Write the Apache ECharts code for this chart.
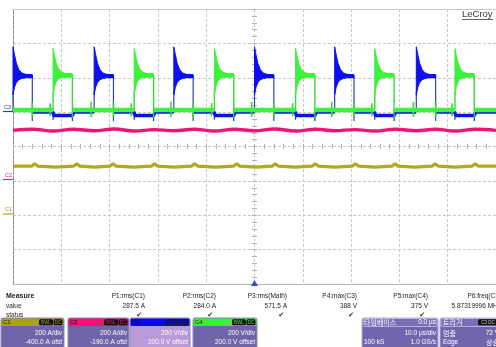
<!DOCTYPE html>
<html><head><meta charset="utf-8">
<script src="https://cdn.jsdelivr.net/npm/echarts@6/dist/echarts.min.js"></script>
<style>html,body{margin:0;padding:0;background:#fff}#c{width:496px;height:347px}</style>
</head><body><div id="c"></div><script>
// ---- data (time in µs, 10 µs/div, trigger at centre; amplitude in screen divisions) ----
const c3PulseStarts = [-50, -33.2, -16.7, 0, 16.6, 33.5];
const c4PulseStarts = [-41.7, -24.9, -8.3, 8.5, 24.9, 41.5];
const pulseWidth = 4.0;
const c3Levels = { base: 1.0, lowWhileC4: 0.9, plateau: 2.05, undershoot: 0.74 };
const c4Levels = { base: 1.06, plateau: 2.07, undershoot: 0.84 };
// ringing envelopes after switch-on: [dt µs, div]
const c3RingTop    = [[0,2.9],[0.3,2.68],[0.7,2.42],[1.2,2.24],[1.8,2.14],[2.6,2.1],[4.0,2.09]];
const c3RingBottom = [[0,1.5],[0.3,1.72],[0.7,1.86],[1.2,1.94],[1.8,1.98],[2.6,2.0],[4.0,2.0]];
const c4RingTop    = [[0,2.85],[0.3,2.64],[0.7,2.4],[1.2,2.24],[1.8,2.16],[2.6,2.12],[4.0,2.11]];
const c4RingBottom = [[0,1.5],[0.3,1.74],[0.7,1.9],[1.2,1.97],[1.8,2.01],[2.6,2.03],[4.0,2.03]];
// switching spikes: [time µs, low div, high div]
const c3Spikes = [[-41.7,0.78,1.0],[-24.9,0.78,1.0],[-8.3,0.78,1.0],[8.5,0.78,1.0],[24.9,0.78,1.0],[41.5,0.78,1.0],
  [-37.7,0.74,0.95],[-20.9,0.74,0.95],[-4.3,0.74,0.95],[12.5,0.74,0.95],[28.9,0.74,0.95],[45.5,0.74,0.95]];
const c4Spikes = [[-46,0.84,1.28],[-42.3,0.88,1.26],[-33.8,0.86,1.3],[-29.2,0.84,1.28],[-25.5,0.88,1.26],
  [-17.3,0.86,1.3],[-12.7,0.84,1.28],[-8.9,0.88,1.26],[-0.6,0.86,1.3],
  [4.0,0.84,1.28],[7.9,0.88,1.26],[16.0,0.86,1.3],[20.6,0.84,1.28],[24.3,0.88,1.26],
  [32.9,0.86,1.3],[37.5,0.84,1.28],[40.9,0.88,1.26]];
// C2 (magenta) current trace
const c2Times  = [-50,-45.8,-41.7,-37.5,-33.2,-29,-24.9,-20.8,-16.7,-12.5,-8.3,-4.2,0,4.2,8.5,12.7,16.6,20.8,24.9,29.2,33.5,37.5,41.5,45.8,50];
const c2Values = [0.47,0.50,0.45,0.50,0.46,0.51,0.45,0.49,0.46,0.50,0.45,0.50,0.46,0.51,0.45,0.50,0.46,0.49,0.45,0.50,0.46,0.50,0.45,0.50,0.47];
// C1 (olive) current trace: small bumps at each switch-off
const c1BumpTimes = [-45.5,-36.8,-29.3,-20.7,-12.4,-3.7,4.3,12.6,20.9,29.1,37.4,45.7];
const c1Levels = { base: -0.57, bump: -0.5, trough: -0.6 };
// measurement panel
const measHeaders = ['P1:rms(C1)','P2:rms(C2)','P3:rms(Math)','P4:max(C3)','P5:max(C4)','P6:freq(C3)'];
const measValues  = ['287.5 A','284.0 A','571.5 A','388 V','375 V','5.87319996 MHz'];
const measStatus  = ['✔','✔','✔','✔','✔',''];
const chNames   = ['C1','C2','C3','C4'];
const chScales  = ['200 A/div','200 A/div','200 V/div','200 V/div'];
const chOffsets = ['-400.0 A ofst','-190.0 A ofst','200.0 V offset','200.0 V offset'];

// ---- build traces (gaps at the fast edges, which are drawn thin) ----
function sortPts(p){ return p.sort((a,b)=>a[0]-b[0]); }
function c3Trace(){
  const L=c3Levels, p=[[-50,L.base]];
  c3PulseStarts.forEach(t=>{ p.push([t-0.001,L.base],[t,'-'],[t+0.02,L.plateau],[t+pulseWidth,L.plateau],[t+pulseWidth+0.001,'-'],[t+pulseWidth+0.02,L.base]); });
  c4PulseStarts.forEach(t=>{ p.push([t-0.05,L.base],[t+0.2,L.lowWhileC4],[t+pulseWidth,L.lowWhileC4],[t+pulseWidth+0.3,L.base]); });
  p.push([50,L.base]);
  return sortPts(p).filter(q=>q[0]>=-50);
}
function c3Edges(){ const L=c3Levels, e=[];
  c3PulseStarts.forEach(t=>{ e.push([t,L.base,1.6],[t+pulseWidth,L.undershoot,L.plateau]); }); return e; }
function c4Trace(){
  const L=c4Levels, p=[[-50,L.base]];
  c4PulseStarts.forEach(t=>{ p.push([t-0.001,L.base],[t,'-'],[t+0.02,L.plateau],[t+pulseWidth,L.plateau],[t+pulseWidth+0.001,'-'],[t+pulseWidth+0.02,L.base]); });
  p.push([50,L.base]);
  return sortPts(p);
}
function c4Edges(){ const L=c4Levels, e=[];
  c4PulseStarts.forEach(t=>{ e.push([t,L.base,1.6],[t+pulseWidth,L.undershoot,L.plateau]); }); return e; }
function c1Trace(){
  const L=c1Levels, p=[[-50,L.base]];
  c1BumpTimes.forEach((b,i)=>{ p.push([b-0.6,L.base],[b,L.bump],[b+0.6,L.base]);
    const nb=c1BumpTimes[i+1]; if(nb!==undefined) p.push([(b+nb)/2,L.trough]); });
  p.push([50,L.base]);
  return sortPts(p);
}
function ringSeries(starts, top, bottom, color, z){
  return { type:'custom', z, silent:true, data: starts.map(t=>[t,0]), encode:{x:0,y:1},
    renderItem:(params, api)=>{
      const t0=api.value(0);
      const pts=top.map(q=>api.coord([t0+q[0],q[1]])).concat(bottom.slice().reverse().map(q=>api.coord([t0+q[0],q[1]])));
      return { type:'polygon', shape:{points:pts}, style:{fill:color, stroke:color, lineWidth:1} };
    } };
}
function spikeSeries(spikes, color, z, w){
  return { type:'custom', z, silent:true, data: spikes, encode:{x:0,y:[1,2]},
    renderItem:(params, api)=>{
      const a=api.coord([api.value(0),api.value(1)]), b=api.coord([api.value(0),api.value(2)]);
      return { type:'line', shape:{x1:a[0],y1:a[1],x2:b[0],y2:b[1]}, style:{stroke:color, lineWidth:w} };
    } };
}

// ---- bottom panel graphics ----
const FONT = '"Liberation Sans", Arial, sans-serif';
const KFONT = '"Noto Sans CJK KR", "Liberation Sans", sans-serif';
const g = [];
function txt(x,y,s,o){ o=o||{}; g.push({type:'text', x, y, z:10, style:{text:s, fill:o.fill||'#222', font:(o.bold?'bold ':'')+(o.size||6.5)+'px '+(o.font||FONT), textAlign:o.align||'left', textVerticalAlign:'middle'}}); }
function rect(x,y,w,h,fill,o){ o=o||{}; g.push({type:'rect', z:o.z||5, shape:{x,y,width:w,height:h,r:o.r||0}, style:{fill, stroke:o.stroke||null, lineWidth:o.lw||1}}); }

// LeCroy logo
txt(462,14,'LeCroy',{size:9.5,fill:'#3a3a3a'});
g.push({type:'line', z:10, shape:{x1:462,y1:19.5,x2:493,y2:19.5}, style:{stroke:'#3a3a3a', lineWidth:0.8}});
// channel ground markers
txt(4,107.5,'C3',{size:5.5,fill:'#22308a'});
g.push({type:'line', z:10, shape:{x1:3,y1:111.5,x2:13,y2:111.5}, style:{stroke:'#2040c0', lineWidth:1.2}});
txt(5,175.5,'C2',{size:5.5,fill:'#d0207a'});
g.push({type:'line', z:10, shape:{x1:3,y1:179.5,x2:13,y2:179.5}, style:{stroke:'#e0207a', lineWidth:1.2}});
txt(5,209.5,'C1',{size:5.5,fill:'#a0a020'});
g.push({type:'line', z:10, shape:{x1:3,y1:214,x2:13,y2:214}, style:{stroke:'#a8a020', lineWidth:1.2}});

// measure table
txt(6,296,'Measure',{bold:true,size:7});
txt(6,306,'value',{size:6.5});
txt(6,315.5,'status',{size:6.5});
const measRight=[145,216,287,357,428,501];
measHeaders.forEach((s,i)=>{
  txt(measRight[i],296,s,{align:'right'});
  txt(measRight[i],306,measValues[i],{align:'right'});
  if(measStatus[i]) txt(measRight[i]-3,315,measStatus[i],{align:'right',size:7,font:'"DejaVu Sans", sans-serif',fill:'#333'});
});
// channel boxes
const chX=[1,68,130,193], chW=[63,61,60,64];
const chHead=['#a8a21e','#ee1478','#0a0ae6','#3af03a'];
const chBody=['#6f64a8','#6f64a8','#b89ad8','#6f64a8'];
chNames.forEach((n,i)=>{
  const x=chX[i], w=chW[i];
  rect(x,318,w,32,chBody[i],{r:2,stroke:'#9088c0'});
  rect(x+0.5,318.5,w-1,7.5,chHead[i],{r:1.5,z:6});
  txt(x+2,322.3,n,{size:6,fill:i===2?'#0a0a50':'#111'});
  rect(x+w-25,319.3,14,6,i===2?'#10106a':'#111',{r:1.5,z:7});
  rect(x+w-10.5,319.3,9,6,i===2?'#10106a':'#111',{r:1.5,z:7});
  txt(x+w-18,322.4,'BWL',{size:4.5,align:'center',fill:chHead[i]});
  txt(x+w-6,322.4,'DC',{size:4.5,align:'center',fill:chHead[i]});
  txt(x+w-2,333,chScales[i],{align:'right',fill:'#fff'});
  txt(x+w-2,342.5,chOffsets[i],{align:'right',fill:'#fff'});
});
// timebase box
rect(362,318,76,32,'#7166ae',{r:2,stroke:'#b0a8d8'});
rect(363,318.5,74,8,'#7a6fb6',{r:1.5,z:6,stroke:'#c8c0e8',lw:0.8});
txt(364,322.5,'타임베이스',{size:7,font:KFONT,fill:'#fff'});
txt(436,322.5,'0.0 µs',{align:'right',fill:'#fff'});
txt(436,333,'10.0 µs/div',{align:'right',fill:'#fff'});
txt(364,342.5,'100 kS',{fill:'#fff'});
txt(436,342.5,'1.0 GS/s',{align:'right',fill:'#fff'});
// trigger box
rect(440,318,62,32,'#7166ae',{r:2,stroke:'#b0a8d8'});
rect(441,318.5,60,8,'#7a6fb6',{r:1.5,z:6,stroke:'#c8c0e8',lw:0.8});
txt(443,322.5,'트리거',{size:7,font:KFONT,fill:'#fff'});
rect(478,319.3,20,6,'#111',{r:1.5,z:7});
txt(488,322.4,'C3 DC',{size:4.5,align:'center',fill:'#ccc'});
txt(443,333,'멈춤',{size:7,font:KFONT,fill:'#fff'});
txt(499,333,'72 V',{align:'right',fill:'#fff'});
txt(443,342.5,'Edge',{fill:'#fff'});
txt(499,342.5,'상승',{align:'right',size:7,font:KFONT,fill:'#fff'});

// ---- chart ----
const chart = echarts.init(document.getElementById('c'), null, {renderer:'canvas'});
const gridCol='#c8c8c8';
const hidden={show:false};
function centreX(pos){ return {type:'value',min:-50,max:50,interval:10,position:pos,
  axisLine:{show:true,onZero:true,onZeroAxisIndex:0,lineStyle:{color:'rgba(0,0,0,0)'}},
  axisTick:{show:true,length:2.5,lineStyle:{color:'#b0b0b0'}},
  minorTick:{show:true,splitNumber:5,length:2.5,lineStyle:{color:'#b0b0b0'}},
  axisLabel:hidden,splitLine:hidden}; }
function centreY(pos){ return {type:'value',min:-4,max:4,interval:1,position:pos,
  axisLine:{show:true,onZero:true,onZeroAxisIndex:0,lineStyle:{color:'rgba(0,0,0,0)'}},
  axisTick:{show:true,length:2.5,lineStyle:{color:'#b0b0b0'}},
  minorTick:{show:true,splitNumber:5,length:2.5,lineStyle:{color:'#b0b0b0'}},
  axisLabel:hidden,splitLine:hidden}; }
chart.setOption({
  animation:false,
  backgroundColor:'#ffffff',
  grid:{left:13,top:9,width:484,height:275,containLabel:false},
  xAxis:[
    {type:'value',min:-50,max:50,interval:10,position:'bottom',
     axisLine:{show:true,onZero:false,lineStyle:{color:'#b4b4b4'}},axisTick:hidden,axisLabel:hidden,
     splitLine:{show:true,lineStyle:{color:gridCol,type:[3,2],width:1}}},
    {type:'value',min:-50,max:50,interval:10,position:'top',
     axisLine:{show:true,onZero:false,lineStyle:{color:'#c8c8c8'}},axisTick:hidden,axisLabel:hidden,splitLine:hidden},
    centreX('bottom'), centreX('top')
  ],
  yAxis:[
    {type:'value',min:-4,max:4,interval:1,position:'left',
     axisLine:{show:true,onZero:false,lineStyle:{color:'#8c8c8c',type:[3,2]}},axisTick:hidden,axisLabel:hidden,
     splitLine:{show:true,lineStyle:{color:gridCol,type:[3,2],width:1}}},
    centreY('left'), centreY('right')
  ],
  series:[
    {type:'line',name:'C2',data:c2Times.map((t,i)=>[t,c2Values[i]]),smooth:0.4,showSymbol:false,
     lineStyle:{color:'#ee1478',width:3.4},z:3,silent:true},
    {type:'line',name:'C1',data:c1Trace(),showSymbol:false,
     lineStyle:{color:'#b0aa1c',width:3.2},z:3,silent:true},
    {type:'line',name:'C3',data:c3Trace(),showSymbol:false,connectNulls:false,
     lineStyle:{color:'#0c10f0',width:3.4},z:4,silent:true},
    spikeSeries(c3Spikes,'#2a3ab8',4,1.3),
    spikeSeries(c3Edges(),'#3040b8',4,1.2),
    ringSeries(c3PulseStarts,c3RingTop,c3RingBottom,'#0c10f0',4),
    {type:'line',name:'C4',data:c4Trace(),showSymbol:false,connectNulls:false,
     lineStyle:{color:'#3cf23c',width:4.6},z:5,silent:true},
    spikeSeries(c4Spikes,'#30d830',5,1.6),
    spikeSeries(c4Edges(),'#34d834',5,1.4),
    ringSeries(c4PulseStarts,c4RingTop,c4RingBottom,'#3cf23c',5),
    {type:'scatter',name:'trigger',data:[[0,-4]],symbol:'triangle',symbolSize:[7,6],symbolOffset:[0,-1],
     itemStyle:{color:'#1020e0'},z:6,silent:true}
  ],
  graphic:g
});
</script></body></html>
